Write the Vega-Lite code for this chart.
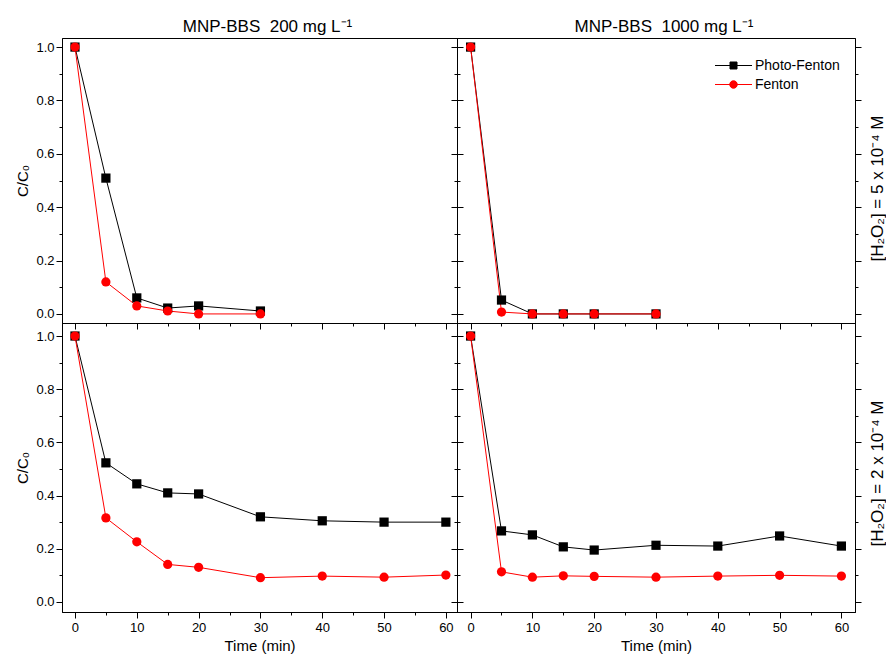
{
  "$schema": "https://vega.github.io/schema/vega-lite/v6.json",
  "padding": {"left": 15, "top": 17, "right": 0, "bottom": 0},
  "background": "white",
  "datasets": {
    "d": [
      {"panel": "TL", "process": "Photo-Fenton", "t": 0, "c": 1.0},
      {"panel": "TL", "process": "Photo-Fenton", "t": 5, "c": 0.509},
      {"panel": "TL", "process": "Photo-Fenton", "t": 10, "c": 0.06},
      {"panel": "TL", "process": "Photo-Fenton", "t": 15, "c": 0.022},
      {"panel": "TL", "process": "Photo-Fenton", "t": 20, "c": 0.03},
      {"panel": "TL", "process": "Photo-Fenton", "t": 30, "c": 0.011},
      {"panel": "TR", "process": "Photo-Fenton", "t": 0, "c": 1.0},
      {"panel": "TR", "process": "Photo-Fenton", "t": 5, "c": 0.052},
      {"panel": "TR", "process": "Photo-Fenton", "t": 10, "c": 0.0},
      {"panel": "TR", "process": "Photo-Fenton", "t": 15, "c": 0.0},
      {"panel": "TR", "process": "Photo-Fenton", "t": 20, "c": 0.0},
      {"panel": "TR", "process": "Photo-Fenton", "t": 30, "c": 0.0},
      {"panel": "BL", "process": "Photo-Fenton", "t": 0, "c": 1.0},
      {"panel": "BL", "process": "Photo-Fenton", "t": 5, "c": 0.523},
      {"panel": "BL", "process": "Photo-Fenton", "t": 10, "c": 0.444},
      {"panel": "BL", "process": "Photo-Fenton", "t": 15, "c": 0.41},
      {"panel": "BL", "process": "Photo-Fenton", "t": 20, "c": 0.406},
      {"panel": "BL", "process": "Photo-Fenton", "t": 30, "c": 0.32},
      {"panel": "BL", "process": "Photo-Fenton", "t": 40, "c": 0.305},
      {"panel": "BL", "process": "Photo-Fenton", "t": 50, "c": 0.30},
      {"panel": "BL", "process": "Photo-Fenton", "t": 60, "c": 0.30},
      {"panel": "BR", "process": "Photo-Fenton", "t": 0, "c": 1.0},
      {"panel": "BR", "process": "Photo-Fenton", "t": 5, "c": 0.267},
      {"panel": "BR", "process": "Photo-Fenton", "t": 10, "c": 0.252},
      {"panel": "BR", "process": "Photo-Fenton", "t": 15, "c": 0.207},
      {"panel": "BR", "process": "Photo-Fenton", "t": 20, "c": 0.195},
      {"panel": "BR", "process": "Photo-Fenton", "t": 30, "c": 0.213},
      {"panel": "BR", "process": "Photo-Fenton", "t": 40, "c": 0.21},
      {"panel": "BR", "process": "Photo-Fenton", "t": 50, "c": 0.248},
      {"panel": "BR", "process": "Photo-Fenton", "t": 60, "c": 0.21},
      {"panel": "TL", "process": "Fenton", "t": 0, "c": 1.0},
      {"panel": "TL", "process": "Fenton", "t": 5, "c": 0.12},
      {"panel": "TL", "process": "Fenton", "t": 10, "c": 0.03},
      {"panel": "TL", "process": "Fenton", "t": 15, "c": 0.011},
      {"panel": "TL", "process": "Fenton", "t": 20, "c": 0.0},
      {"panel": "TL", "process": "Fenton", "t": 30, "c": 0.0},
      {"panel": "TR", "process": "Fenton", "t": 0, "c": 1.0},
      {"panel": "TR", "process": "Fenton", "t": 5, "c": 0.007},
      {"panel": "TR", "process": "Fenton", "t": 10, "c": 0.0},
      {"panel": "TR", "process": "Fenton", "t": 15, "c": 0.0},
      {"panel": "TR", "process": "Fenton", "t": 20, "c": 0.0},
      {"panel": "TR", "process": "Fenton", "t": 30, "c": 0.0},
      {"panel": "BL", "process": "Fenton", "t": 0, "c": 1.0},
      {"panel": "BL", "process": "Fenton", "t": 5, "c": 0.316},
      {"panel": "BL", "process": "Fenton", "t": 10, "c": 0.226},
      {"panel": "BL", "process": "Fenton", "t": 15, "c": 0.141},
      {"panel": "BL", "process": "Fenton", "t": 20, "c": 0.13},
      {"panel": "BL", "process": "Fenton", "t": 30, "c": 0.091},
      {"panel": "BL", "process": "Fenton", "t": 40, "c": 0.097},
      {"panel": "BL", "process": "Fenton", "t": 50, "c": 0.093},
      {"panel": "BL", "process": "Fenton", "t": 60, "c": 0.101},
      {"panel": "BR", "process": "Fenton", "t": 0, "c": 1.0},
      {"panel": "BR", "process": "Fenton", "t": 5, "c": 0.113},
      {"panel": "BR", "process": "Fenton", "t": 10, "c": 0.093},
      {"panel": "BR", "process": "Fenton", "t": 15, "c": 0.098},
      {"panel": "BR", "process": "Fenton", "t": 20, "c": 0.096},
      {"panel": "BR", "process": "Fenton", "t": 30, "c": 0.093},
      {"panel": "BR", "process": "Fenton", "t": 40, "c": 0.097},
      {"panel": "BR", "process": "Fenton", "t": 50, "c": 0.1},
      {"panel": "BR", "process": "Fenton", "t": 60, "c": 0.097}
    ]
  },
  "data": {"name": "d"},
  "bounds": "flush",
  "spacing": 0,
  "columns": 2,
  "resolve": {"scale": {"color": "independent", "shape": "independent", "stroke": "independent"}, "legend": {"color": "independent", "shape": "independent", "stroke": "independent"}},
  "concat": [
    {
      "width": 395, "height": 285,
      "title": {"text": "MNP-BBS\u00a0 200 mg L⁻¹", "dx": 8},
      "transform": [{"filter": "datum.panel == 'TL'"}],
      "encoding": {
        "x": {"field": "t", "type": "quantitative", "scale": {"domain": [-2.1, 61.8], "nice": false, "zero": false},
          "axis": {"values": [0,5,10,15,20,25,30,35,40,45,50,55,60], "labels": false, "title": null,
            "tickSize": {"condition": {"test": "datum.value % 10 == 0", "value": 6}, "value": 3}}},
        "color": {"field": "process", "type": "nominal", "scale": {"domain": ["Photo-Fenton", "Fenton"], "range": ["#000000", "#ff0000"]}, "legend": null}
      },
      "layer": [
        {"mark": {"type": "line", "strokeWidth": 1},
          "encoding": {"y": {"field": "c", "type": "quantitative", "scale": {"domain": [-0.034, 1.034], "nice": false, "zero": false},
            "axis": {"orient": "left", "values": [0,0.1,0.2,0.3,0.4,0.5,0.6,0.7,0.8,0.9,1.0], "title": "C/C₀",
              "labelExpr": "round(datum.value*10)%2==0 ? format(datum.value,'.1f') : ''",
              "tickSize": {"condition": {"test": "round(datum.value*10)%2==0", "value": 6}, "value": 3}}}}},
        {"mark": {"type": "point", "filled": true, "opacity": 1, "size": 85},
          "encoding": {
            "y": {"field": "c", "type": "quantitative", "scale": {"domain": [-0.034, 1.034], "nice": false, "zero": false},
              "axis": {"orient": "right", "values": [0,0.1,0.2,0.3,0.4,0.5,0.6,0.7,0.8,0.9,1.0], "labels": false, "title": null,
                "tickSize": {"condition": {"test": "round(datum.value*10)%2==0", "value": 6}, "value": 3}}},
            "shape": {"field": "process", "type": "nominal", "scale": {"domain": ["Photo-Fenton", "Fenton"], "range": ["square", "circle"]}, "legend": null}}}
      ],
      "resolve": {"axis": {"y": "independent"}}
    },
    {
      "width": 398, "height": 285,
      "title": {"text": "MNP-BBS\u00a0 1000 mg L⁻¹", "dx": 8},
      "transform": [{"filter": "datum.panel == 'TR'"}],
      "encoding": {
        "x": {"field": "t", "type": "quantitative", "scale": {"domain": [-2.2, 62.2], "nice": false, "zero": false},
          "axis": {"values": [0,5,10,15,20,25,30,35,40,45,50,55,60], "labels": false, "title": null,
            "tickSize": {"condition": {"test": "datum.value % 10 == 0", "value": 6}, "value": 3}}}
      },
      "layer": [
        {"transform": [{"filter": "datum.process == 'Photo-Fenton'"}],
          "mark": {"type": "line", "strokeWidth": 1, "color": "#000000"},
          "encoding": {
            "y": {"field": "c", "type": "quantitative", "scale": {"domain": [-0.034, 1.034], "nice": false, "zero": false},
              "axis": {"orient": "left", "values": [0,0.1,0.2,0.3,0.4,0.5,0.6,0.7,0.8,0.9,1.0], "labels": false, "title": null,
                "tickSize": {"condition": {"test": "round(datum.value*10)%2==0", "value": 6}, "value": 3}}}}},
        {"transform": [{"filter": "datum.process == 'Fenton'"}],
          "mark": {"type": "line", "strokeWidth": 1, "color": "#ff0000"},
          "encoding": {
            "y": {"field": "c", "type": "quantitative", "scale": {"domain": [-0.034, 1.034], "nice": false, "zero": false}, "axis": null}}},
        {"mark": {"type": "point", "filled": true, "opacity": 1, "size": 85},
          "encoding": {
            "y": {"field": "c", "type": "quantitative", "scale": {"domain": [-0.034, 1.034], "nice": false, "zero": false},
              "axis": {"orient": "right", "values": [0,0.1,0.2,0.3,0.4,0.5,0.6,0.7,0.8,0.9,1.0], "labels": false,
                "title": "[H₂O₂] = 5 x 10⁻⁴ M", "titleAngle": 270, "titleY": 150, "titleAlign": "center", "titleBaseline": "bottom", "titlePadding": 25, "titleFontSize": 17,
                "tickSize": {"condition": {"test": "round(datum.value*10)%2==0", "value": 6}, "value": 3}}},
            "shape": {"field": "process", "type": "nominal", "scale": {"domain": ["Photo-Fenton", "Fenton"], "range": ["square", "circle"]}, "legend": null},
            "color": {"field": "process", "type": "nominal", "scale": {"domain": ["Photo-Fenton", "Fenton"], "range": ["#000000", "#ff0000"]}, "legend": null}}},
        {"transform": [{"filter": "false"}],
          "mark": {"type": "point", "filled": true, "opacity": 1, "size": 100},
          "encoding": {
            "y": {"field": "c", "type": "quantitative", "scale": {"domain": [-0.034, 1.034], "nice": false, "zero": false}, "axis": null},
            "shape": {"field": "process", "type": "nominal",
              "scale": {"domain": ["Photo-Fenton", "Fenton"], "range": ["M-3.7,0H3.7M-0.7,-0.7H0.7V0.7H-0.7Z", "M-3.7,0H3.7M0.75,0A0.75,0.75,0,1,1,-0.75,0A0.75,0.75,0,1,1,0.75,0Z"]},
              "legend": {"orient": "none", "legendX": 269.5, "legendY": 20.5, "title": null, "padding": 0,
                "labelFont": "Liberation Sans", "labelFontSize": 14, "labelColor": "#000000", "labelOffset": 14.5,
                "symbolSize": 100, "rowPadding": 5, "symbolStrokeWidth": 1, "symbolOpacity": 1}},
            "color": {"field": "process", "type": "nominal", "scale": {"domain": ["Photo-Fenton", "Fenton"], "range": ["#000000", "#ff0000"]},
              "legend": {"orient": "none", "legendX": 269.5, "legendY": 20.5, "title": null, "padding": 0,
                "labelFont": "Liberation Sans", "labelFontSize": 14, "labelColor": "#000000", "labelOffset": 14.5,
                "symbolSize": 100, "rowPadding": 5, "symbolStrokeWidth": 1, "symbolOpacity": 1}},
            "stroke": {"field": "process", "type": "nominal", "scale": {"domain": ["Photo-Fenton", "Fenton"], "range": ["#000000", "#ff0000"]},
              "legend": {"orient": "none", "legendX": 269.5, "legendY": 20.5, "title": null, "padding": 0,
                "labelFont": "Liberation Sans", "labelFontSize": 14, "labelColor": "#000000", "labelOffset": 14.5,
                "symbolSize": 100, "rowPadding": 5, "symbolStrokeWidth": 1, "symbolOpacity": 1}}}}
      ],
      "resolve": {
        "axis": {"y": "independent"},
        "scale": {"color": "independent", "shape": "independent", "stroke": "independent"},
        "legend": {"color": "independent", "shape": "independent", "stroke": "independent"}
      }
    },
    {
      "width": 395, "height": 289,
      "transform": [{"filter": "datum.panel == 'BL'"}],
      "encoding": {
        "x": {"field": "t", "type": "quantitative", "scale": {"domain": [-2.1, 61.8], "nice": false, "zero": false},
          "axis": {"values": [0,5,10,15,20,25,30,35,40,45,50,55,60], "title": "Time (min)",
            "labelExpr": "datum.value % 10 == 0 ? format(datum.value,'d') : ''",
            "tickSize": {"condition": {"test": "datum.value % 10 == 0", "value": 6}, "value": 3}}},
        "color": {"field": "process", "type": "nominal", "scale": {"domain": ["Photo-Fenton", "Fenton"], "range": ["#000000", "#ff0000"]}, "legend": null}
      },
      "layer": [
        {"mark": {"type": "line", "strokeWidth": 1},
          "encoding": {"y": {"field": "c", "type": "quantitative", "scale": {"domain": [-0.038, 1.049], "nice": false, "zero": false},
            "axis": {"orient": "left", "values": [0,0.1,0.2,0.3,0.4,0.5,0.6,0.7,0.8,0.9,1.0], "title": "C/C₀",
              "labelExpr": "round(datum.value*10)%2==0 ? format(datum.value,'.1f') : ''",
              "tickSize": {"condition": {"test": "round(datum.value*10)%2==0", "value": 6}, "value": 3}}}}},
        {"mark": {"type": "point", "filled": true, "opacity": 1, "size": 85},
          "encoding": {
            "y": {"field": "c", "type": "quantitative", "scale": {"domain": [-0.038, 1.049], "nice": false, "zero": false},
              "axis": {"orient": "right", "values": [0,0.1,0.2,0.3,0.4,0.5,0.6,0.7,0.8,0.9,1.0], "labels": false, "title": null,
                "tickSize": {"condition": {"test": "round(datum.value*10)%2==0", "value": 6}, "value": 3}}},
            "shape": {"field": "process", "type": "nominal", "scale": {"domain": ["Photo-Fenton", "Fenton"], "range": ["square", "circle"]}, "legend": null}}}
      ],
      "resolve": {"axis": {"y": "independent"}}
    },
    {
      "width": 398, "height": 289,
      "transform": [{"filter": "datum.panel == 'BR'"}],
      "encoding": {
        "x": {"field": "t", "type": "quantitative", "scale": {"domain": [-2.2, 62.2], "nice": false, "zero": false},
          "axis": {"values": [0,5,10,15,20,25,30,35,40,45,50,55,60], "title": "Time (min)",
            "labelExpr": "datum.value % 10 == 0 ? format(datum.value,'d') : ''",
            "tickSize": {"condition": {"test": "datum.value % 10 == 0", "value": 6}, "value": 3}}},
        "color": {"field": "process", "type": "nominal", "scale": {"domain": ["Photo-Fenton", "Fenton"], "range": ["#000000", "#ff0000"]}, "legend": null}
      },
      "layer": [
        {"mark": {"type": "line", "strokeWidth": 1},
          "encoding": {"y": {"field": "c", "type": "quantitative", "scale": {"domain": [-0.038, 1.049], "nice": false, "zero": false},
            "axis": {"orient": "left", "values": [0,0.1,0.2,0.3,0.4,0.5,0.6,0.7,0.8,0.9,1.0], "labels": false, "title": null,
              "tickSize": {"condition": {"test": "round(datum.value*10)%2==0", "value": 6}, "value": 3}}}}},
        {"mark": {"type": "point", "filled": true, "opacity": 1, "size": 85},
          "encoding": {
            "y": {"field": "c", "type": "quantitative", "scale": {"domain": [-0.038, 1.049], "nice": false, "zero": false},
              "axis": {"orient": "right", "values": [0,0.1,0.2,0.3,0.4,0.5,0.6,0.7,0.8,0.9,1.0], "labels": false,
                "title": "[H₂O₂] = 2 x 10⁻⁴ M", "titleAngle": 270, "titleY": 150, "titleAlign": "center", "titleBaseline": "bottom", "titlePadding": 25, "titleFontSize": 17,
                "tickSize": {"condition": {"test": "round(datum.value*10)%2==0", "value": 6}, "value": 3}}},
            "shape": {"field": "process", "type": "nominal", "scale": {"domain": ["Photo-Fenton", "Fenton"], "range": ["square", "circle"]}, "legend": null}}}
      ],
      "resolve": {"axis": {"y": "independent"}}
    }
  ],
  "config": {
    "font": "Liberation Sans",
    "view": {"stroke": "#000000", "strokeWidth": 1},
    "axis": {
      "grid": false, "domainColor": "#000000", "tickColor": "#000000", "labelColor": "#000000", "titleColor": "#000000",
      "labelFont": "Liberation Sans", "titleFont": "Liberation Sans", "labelFontSize": 13, "titleFontSize": 15,
      "titleFontWeight": "normal", "labelFlush": false, "labelOverlap": false, "labelPadding": 3, "titlePadding": 4, "tickWidth": 1, "domainWidth": 1
    },
    "axisY": {"labelPadding": 2, "titlePadding": 5},
    "title": {"font": "Liberation Sans", "fontSize": 17, "fontWeight": "normal", "color": "#000000", "offset": 2}
  }
}
